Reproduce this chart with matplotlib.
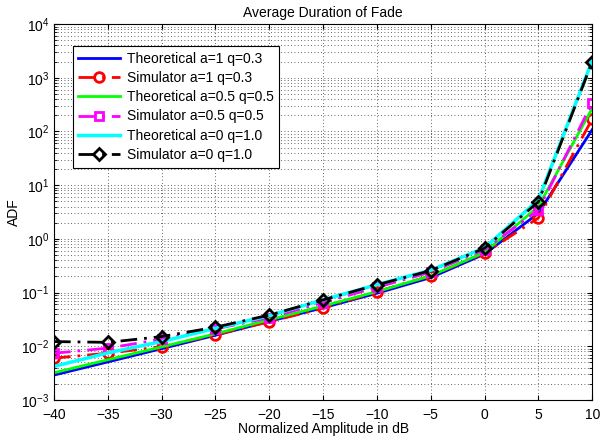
import matplotlib
matplotlib.use("Agg")
import matplotlib.pyplot as plt
from matplotlib.ticker import LogLocator, NullFormatter

plt.rcParams['font.family'] = ['Liberation Sans', 'DejaVu Sans']

amp_db = [-40, -35, -30, -25, -20, -15, -10, -5, 0, 5, 10]

theo_a1 = [0.0029, 0.0051, 0.0090, 0.016, 0.029, 0.052, 0.097, 0.19, 0.52, 3.0, 108]
sim_a1 = [0.0060, 0.0074, 0.0098, 0.0163, 0.0286, 0.051, 0.104, 0.204, 0.54, 2.45, 170]
theo_a05 = [0.0032, 0.0056, 0.0097, 0.017, 0.031, 0.056, 0.104, 0.205, 0.56, 4.0, 270]
sim_a05 = [0.0074, 0.0092, 0.0135, 0.021, 0.034, 0.065, 0.125, 0.24, 0.63, 3.45, 340]
theo_a0 = [0.0042, 0.0075, 0.0122, 0.0215, 0.037, 0.073, 0.14, 0.26, 0.68, 5.3, 2100]
sim_a0 = [0.0122, 0.0118, 0.0151, 0.0226, 0.038, 0.0728, 0.139, 0.256, 0.67, 4.9, 2000]

labels = ['Theoretical a=1 q=0.3', 'Simulator a=1 q=0.3',
          'Theoretical a=0.5 q=0.5', 'Simulator a=0.5 q=0.5',
          'Theoretical a=0 q=1.0', 'Simulator a=0 q=1.0']

fig = plt.figure(figsize=(6, 4.38), dpi=100)
ax = fig.add_axes([0.09, 0.087, 0.897, 0.858])

dashdot = (0, (6, 2.5, 1, 2.5))
ax.semilogy(amp_db, theo_a1, '-', color='#0000ff', lw=2, label=labels[0])
ax.semilogy(amp_db, sim_a1, linestyle=dashdot, color='#ff0000', lw=2, marker='o',
            ms=7, mfc='none', mew=2, label=labels[1])
ax.semilogy(amp_db, theo_a05, '-', color='#00ff00', lw=2, label=labels[2])
ax.semilogy(amp_db, sim_a05, linestyle=dashdot, color='#ff00ff', lw=2, marker='s',
            ms=6, mfc='none', mew=2, label=labels[3])
ax.semilogy(amp_db, theo_a0, '-', color='#00ffff', lw=2.5, label=labels[4])
ax.semilogy(amp_db, sim_a0, linestyle=dashdot, color='black', lw=2, marker='D',
            ms=6, mfc='none', mew=2, label=labels[5])

ax.set_xlim(-40, 10)
ax.set_ylim(1e-3, 1e4)
ax.set_xticks(range(-40, 11, 5))
ax.yaxis.set_major_locator(LogLocator(base=10, numticks=10))
ax.yaxis.set_minor_locator(LogLocator(base=10, subs=range(2, 10), numticks=100))
ax.yaxis.set_minor_formatter(NullFormatter())

grid_style = dict(linestyle=(0, (1, 3)), color='#333333', lw=0.6)
ax.grid(True, which='major', axis='both', **grid_style)
ax.grid(True, which='minor', axis='y', **grid_style)
ax.tick_params(which='both', direction='in', top=True, right=True, labelsize=10)
ax.tick_params(axis='x', pad=6)

ax.set_title('Average Duration of Fade', fontsize=10, pad=5)
ax.set_xlabel('Normalized Amplitude in dB', fontsize=10, labelpad=0)
ax.set_ylabel('ADF', fontsize=10, labelpad=0)

leg = ax.legend(loc='upper left', bbox_to_anchor=(0.022, 0.96), fontsize=10,
                fancybox=False, edgecolor='black', framealpha=1,
                handlelength=3.0, handletextpad=0.5, labelspacing=0.38,
                borderpad=0.4)
leg.get_frame().set_linewidth(0.8)

fig.savefig('out.png', dpi=100)
